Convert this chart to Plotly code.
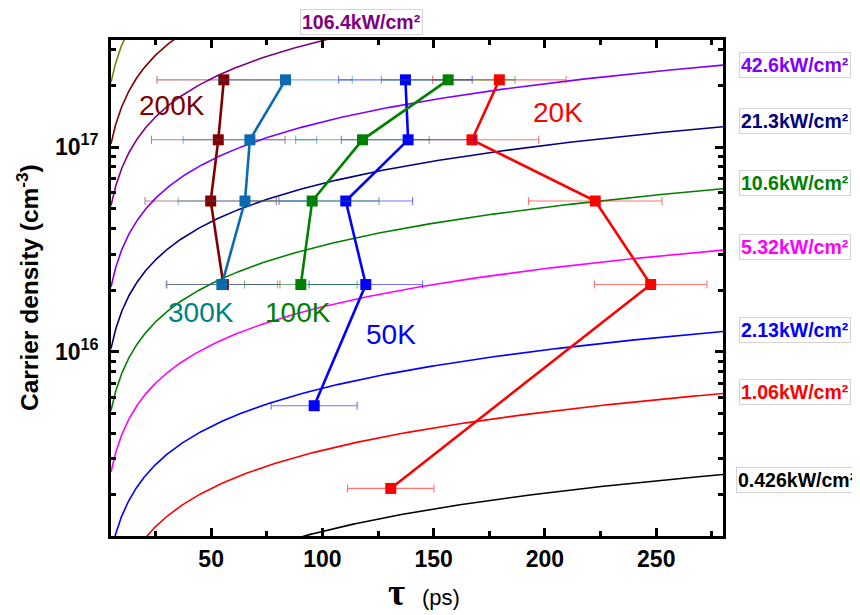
import numpy as np
import plotly.graph_objects as go

# ---------------- data ----------------
# iso-excitation curves: power densities (kW/cm^2), colours, labels
power_levels = [0.426, 1.06, 2.13, 5.32, 10.6, 21.3, 42.6, 106.4, 213, 426]
power_colors = ["#000000", "#FF0000", "#0000FF", "#FF00FF", "#008000",
                "#000080", "#8000FF", "#800080", "#800000", "#808000"]
power_labels = ["0.426kW/cm²", "1.06kW/cm²", "2.13kW/cm²", "5.32kW/cm²",
                "10.6kW/cm²", "21.3kW/cm²", "42.6kW/cm²", "106.4kW/cm²"]
# model n = P * n_per_kw_at_280 * (tau/280)^tau_exponent
n_per_kw_at_280 = 5.9e15
tau_exponent = 0.62
tau_ref = 280.0

# measured points (tau in ps, carrier density in cm^-3, tau error in ps)
temps = ["20K", "50K", "100K", "200K", "300K"]
tau_20K = [179.5, 167.2, 222.6, 247.5, 130.7]
n_20K = [2.13e17, 1.085e17, 5.45e16, 2.13e16, 2.15e15]
err_20K = [30, 30, 30, 25.3, 19.4]

tau_50K = [137.3, 138.5, 110.5, 119.5, 96.3]
n_50K = [2.13e17, 1.085e17, 5.45e16, 2.13e16, 5.45e15]
err_50K = [30, 30, 30, 25.5, 19.3]

tau_100K = [156.5, 118.0, 95.4, 90.3]
n_100K = [2.13e17, 1.085e17, 5.45e16, 2.13e16]
err_100K = [30, 30, 30, 25.3]

tau_200K = [55.7, 53.2, 49.8, 55.5]
n_200K = [2.13e17, 1.085e17, 5.45e16, 2.13e16]
err_200K = [30, 30, 29.5, 25.4]

tau_300K = [83.4, 67.4, 65.2, 54.8]
n_300K = [2.13e17, 1.085e17, 5.45e16, 2.13e16]
err_300K = [30, 30, 30, 25]

x_tick_vals = [50, 100, 150, 200, 250]
y_tick_vals = [1e16, 1e17]
y_tick_text = ["10<sup>16</sup>", "10<sup>17</sup>"]
y_minor_vals = [k * 1e15 for k in range(2, 10)] + [k * 1e16 for k in range(2, 10)] + [2e17, 3e17]

# ---------------- layout geometry ----------------
# the page body adds an 8px margin, so the figure is 8px smaller
OFF = 8
W_FIG, H_FIG = 860 - OFF, 615 - OFF
L, R, T, B = 111 - OFF, 137, 40 - OFF, 79
PW, PH = W_FIG - L - R, H_FIG - T - B

def px(xp):  # reference-window pixel -> paper x
    return (xp - OFF - L) / PW

def py(yp):  # reference-window pixel -> paper y
    return (T + PH - (yp - OFF)) / PH

FONT = "Liberation Sans, Arial, sans-serif"

fig = go.Figure()

tau_grid = np.geomspace(5, 280, 500)
for P, col in zip(power_levels, power_colors):
    n_curve = P * n_per_kw_at_280 * (tau_grid / tau_ref) ** tau_exponent
    fig.add_trace(go.Scatter(x=tau_grid, y=n_curve, mode="lines",
                             line=dict(color=col, width=1.6),
                             hoverinfo="skip", showlegend=False))

series = [
    ("20K", tau_20K, n_20K, err_20K, "#FF0000", "rgba(255,0,0,0.55)"),
    ("50K", tau_50K, n_50K, err_50K, "#0000FF", "rgba(0,0,255,0.55)"),
    ("100K", tau_100K, n_100K, err_100K, "#008000", "rgba(0,128,0,0.55)"),
    ("200K", tau_200K, n_200K, err_200K, "#800000", "rgba(128,0,0,0.5)"),
    ("300K", tau_300K, n_300K, err_300K, "#0C6BB0", "rgba(12,107,176,0.5)"),
]
for name, xs, ys, es, col, ecol in series:
    fig.add_trace(go.Scatter(
        x=xs, y=ys, mode="lines+markers", name=name,
        line=dict(color=col, width=2.6),
        marker=dict(symbol="square", size=11, color=col, line=dict(width=0)),
        error_x=dict(type="data", array=es, visible=True, color=ecol,
                     thickness=1.1, width=4),
        showlegend=False))

annotations = []
# power labels (boxed)
label_pos = [(797, 480), (794.5, 391.7), (794.5, 330), (794.5, 246.7),
             (794.5, 182.5), (794.5, 121), (794.5, 64.7), (361.5, 22)]
for text, col, (xp, yp) in zip(power_labels, power_colors, label_pos):
    annotations.append(dict(
        x=px(xp), y=py(yp), xref="paper", yref="paper", text=text,
        showarrow=False, xanchor="center", yanchor="middle",
        font=dict(family=FONT, size=19.5, color=col, weight="bold"),
        bordercolor="#D4D4D4", borderwidth=1, borderpad=1, bgcolor="white"))

# temperature labels
temp_pos = {"20K": (557.7, 112.5), "50K": (390.8, 334), "100K": (298, 312),
            "200K": (171.7, 105), "300K": (200.8, 312)}
temp_cols = {"20K": "#FF0000", "50K": "#0000FF", "100K": "#008000",
             "200K": "#800000", "300K": "#008080"}
for t in temps:
    xp, yp = temp_pos[t]
    annotations.append(dict(
        x=px(xp), y=py(yp), xref="paper", yref="paper", text=t,
        showarrow=False, xanchor="center", yanchor="middle",
        font=dict(family=FONT, size=28, color=temp_cols[t])))

# axis titles
annotations.append(dict(
    x=px(27), y=py(287), xref="paper", yref="paper",
    text="Carrier density (cm<sup>-3</sup>)", textangle=-90,
    showarrow=False, xanchor="center", yanchor="middle",
    font=dict(family=FONT, size=24.5, color="black", weight="bold")))
annotations.append(dict(
    x=px(396), y=py(592), xref="paper", yref="paper",
    text="τ", showarrow=False, xanchor="center", yanchor="middle",
    font=dict(family="Liberation Serif", size=37, color="black", weight="bold")))
annotations.append(dict(
    x=px(440.5), y=py(597), xref="paper", yref="paper",
    text="(ps)", showarrow=False, xanchor="center", yanchor="middle",
    font=dict(family=FONT, size=22, color="black")))

fig.update_layout(
    width=W_FIG, height=H_FIG,
    margin=dict(l=L, r=R, t=T, b=B, pad=0),
    paper_bgcolor="white", plot_bgcolor="white",
    showlegend=False,
    annotations=annotations,
    xaxis=dict(
        range=[5, 280], tickvals=x_tick_vals, showgrid=False, zeroline=False,
        showline=True, linecolor="black", linewidth=3, mirror="ticks",
        ticks="inside", ticklen=8, tickwidth=2.5, tickcolor="black",
        tickfont=dict(family=FONT, size=23, color="black", weight="bold"),
        minor=dict(dtick=25, tick0=0, ticks="inside", ticklen=5, tickwidth=2.5,
                   tickcolor="black", showgrid=False),
    ),
    yaxis=dict(
        type="log", range=[15.1, 17.523], tickvals=y_tick_vals, ticktext=y_tick_text,
        showgrid=False, zeroline=False, ticklabelstandoff=5,
        showline=True, linecolor="black", linewidth=3, mirror="ticks",
        ticks="inside", ticklen=8, tickwidth=2.5, tickcolor="black",
        tickfont=dict(family=FONT, size=23, color="black", weight="bold"),
        minor=dict(tickmode="array", tickvals=y_minor_vals, ticks="inside",
                   ticklen=5, tickwidth=2.5, tickcolor="black", showgrid=False),
    ),
)

fig.write_html("out.html")
